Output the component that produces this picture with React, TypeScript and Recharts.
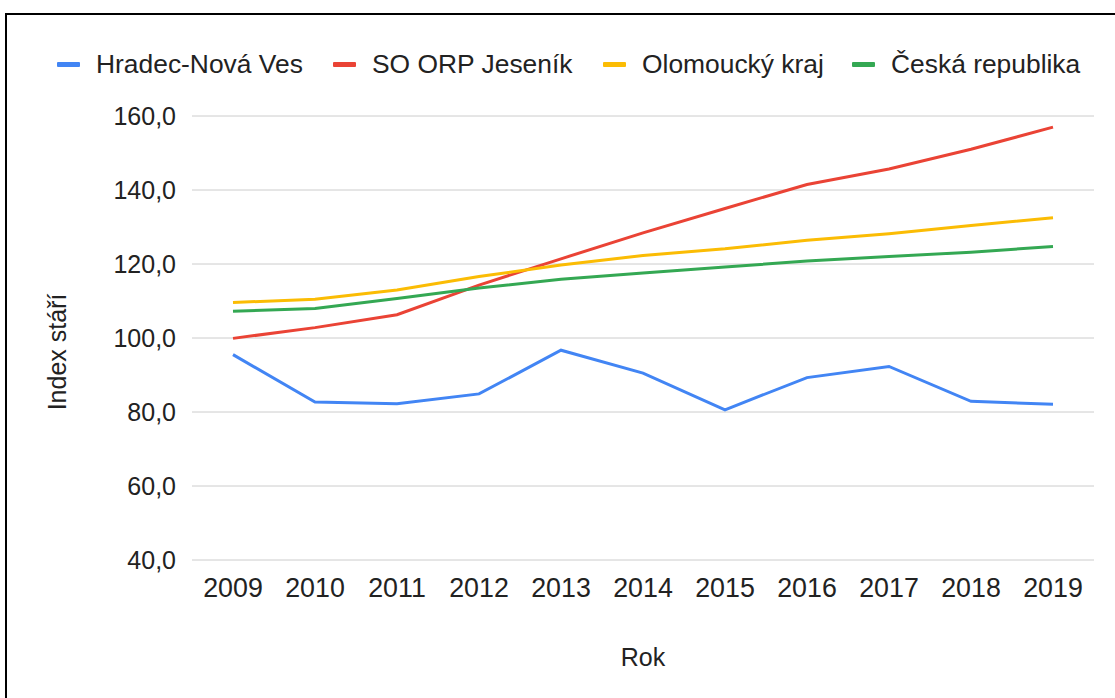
import React from 'react';
import { LineChart, Line, XAxis, YAxis, CartesianGrid, Legend, Label } from 'recharts';

const years = ['2009', '2010', '2011', '2012', '2013', '2014', '2015', '2016', '2017', '2018', '2019'];
const hradec = [95.5, 82.7, 82.2, 84.9, 96.7, 90.5, 80.6, 89.3, 92.3, 82.9, 82.1];
const jesenik = [99.9, 102.8, 106.3, 114.3, 121.4, 128.4, 135.0, 141.5, 145.7, 151.0, 157.0];
const olomoucky = [109.6, 110.5, 113.0, 116.6, 119.7, 122.3, 124.1, 126.4, 128.2, 130.4, 132.5];
const cr = [107.2, 108.0, 110.7, 113.5, 115.9, 117.6, 119.2, 120.8, 122.0, 123.2, 124.7];
const yTicks = [40, 60, 80, 100, 120, 140, 160];

const seriesNames = ['Hradec-Nová Ves', 'SO ORP Jeseník', 'Olomoucký kraj', 'Česká republika'];
const seriesKeys = ['hradec', 'jesenik', 'olomoucky', 'cr'];
const colors = ['#4285F4', '#EA4335', '#FBBC04', '#34A853'];

const data = years.map((y, i) => ({
  year: y,
  hradec: hradec[i],
  jesenik: jesenik[i],
  olomoucky: olomoucky[i],
  cr: cr[i],
}));

const FONT = '"Liberation Sans", Arial, sans-serif';
const legendSwatchX = [57, 333, 603, 852];

const renderLegend = (props: any) => {
  const payload = [...(props.payload || [])].sort(
    (a: any, b: any) => seriesNames.indexOf(a.value) - seriesNames.indexOf(b.value)
  );
  return (
    <div style={{ position: 'relative', width: 1115, height: 40 }}>
      {payload.map((p: any, i: number) => (
        <div key={i} style={{ position: 'absolute', left: legendSwatchX[i], top: 0, height: 32, display: 'flex', alignItems: 'center' }}>
          <div style={{ width: 23, height: 5, background: p.color, borderRadius: 1, marginRight: 16 }} />
          <span style={{ fontFamily: FONT, fontSize: 26.4, color: '#222', whiteSpace: 'nowrap', lineHeight: '32px' }}>{p.value}</span>
        </div>
      ))}
    </div>
  );
};

const fmt = (v: number) => v.toFixed(1).replace('.', ',');

export default function App() {
  return (
    <div style={{ position: 'absolute', left: 0, top: 0, width: 1115, height: 698, overflow: 'hidden', background: '#fff' }}>
      <div style={{ position: 'absolute', left: 5, top: 13, width: 1200, height: 800, border: '2px solid #000', boxSizing: 'border-box' }} />
      <div style={{ position: 'absolute', left: 0, top: 0 }}>
        <LineChart width={1115} height={698} data={data} margin={{ top: 116, right: 21, bottom: 18, left: 112 }}>
          <CartesianGrid vertical={false} stroke="#cccccc" strokeWidth={1} />
          <XAxis
            dataKey="year"
            axisLine={false}
            tickLine={false}
            tickSize={0}
            tickMargin={18}
            height={120}
            padding={{ left: 41, right: 41 }}
            tick={{ fontFamily: FONT, fontSize: 26.8, fill: '#222' }}
            interval={0}
          >
            <Label
              content={(p: any) => {
                const vb = p.viewBox || {};
                return (
                  <text x={vb.x + vb.width / 2} y={vb.y + 97} textAnchor="middle" dominantBaseline="central" fontFamily={FONT} fontSize={25} fill="#222">
                    Rok
                  </text>
                );
              }}
            />
          </XAxis>
          <YAxis
            domain={[40, 160]}
            ticks={yTicks}
            width={80}
            axisLine={false}
            tickLine={false}
            tickSize={0}
            tickMargin={16}
            tickFormatter={fmt}
            tick={{ fontFamily: FONT, fontSize: 25, fill: '#222' }}
          >
            <Label
              content={(p: any) => {
                const vb = p.viewBox || {};
                const cx = 57;
                const cy = vb.y + vb.height / 2 + 14;
                return (
                  <text x={cx} y={cy} transform={`rotate(-90, ${cx}, ${cy})`} textAnchor="middle" dominantBaseline="central" fontFamily={FONT} fontSize={25} fill="#222">
                    Index stáří
                  </text>
                );
              }}
            />
          </YAxis>
          <Legend
            layout="horizontal"
            verticalAlign="middle"
            align="center"
            itemSorter={null as any}
            wrapperStyle={{ top: 48, left: 0, width: 1115 }}
            content={renderLegend}
          />
          {seriesKeys.map((k, i) => (
            <Line
              key={k}
              type="linear"
              dataKey={k}
              name={seriesNames[i]}
              stroke={colors[i]}
              strokeWidth={3}
              dot={false}
              activeDot={false}
              isAnimationActive={false}
            />
          ))}
        </LineChart>
      </div>
    </div>
  );
}
